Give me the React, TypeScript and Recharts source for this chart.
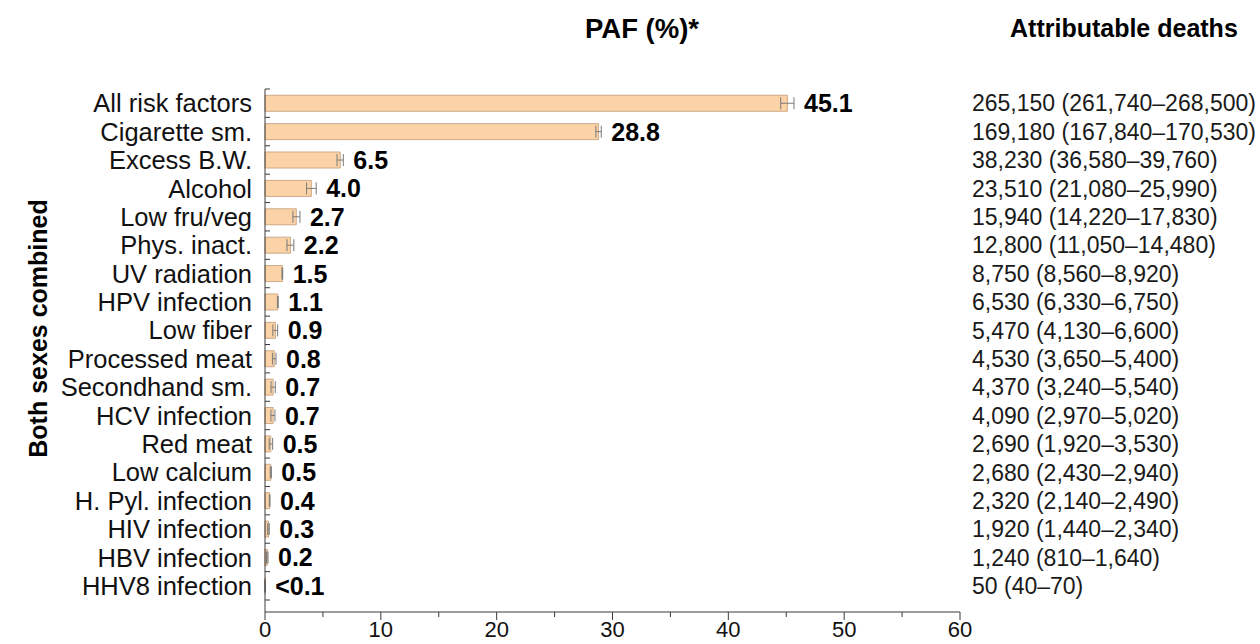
import React from 'react';
import { BarChart, Bar, XAxis, YAxis, ErrorBar, LabelList } from 'recharts';

const categories = [
  'All risk factors', 'Cigarette sm.', 'Excess B.W.', 'Alcohol', 'Low fru/veg', 'Phys. inact.',
  'UV radiation', 'HPV infection', 'Low fiber', 'Processed meat', 'Secondhand sm.', 'HCV infection',
  'Red meat', 'Low calcium', 'H. Pyl. infection', 'HIV infection', 'HBV infection', 'HHV8 infection',
];
const paf = [45.1, 28.8, 6.5, 4.0, 2.7, 2.2, 1.5, 1.1, 0.9, 0.8, 0.7, 0.7, 0.5, 0.5, 0.4, 0.3, 0.2, 0.01];
const pafLow = [44.52, 28.57, 6.22, 3.59, 2.41, 1.9, 1.47, 1.07, 0.68, 0.64, 0.52, 0.51, 0.36, 0.45, 0.37, 0.23, 0.13, 0.008];
const pafHigh = [45.67, 29.03, 6.76, 4.42, 3.02, 2.49, 1.53, 1.14, 1.09, 0.95, 0.89, 0.86, 0.66, 0.55, 0.43, 0.37, 0.26, 0.014];
const pafLabels = ['45.1', '28.8', '6.5', '4.0', '2.7', '2.2', '1.5', '1.1', '0.9', '0.8', '0.7', '0.7', '0.5', '0.5', '0.4', '0.3', '0.2', '<0.1'];
const deaths = [
  '265,150 (261,740–268,500)', '169,180 (167,840–170,530)', '38,230 (36,580–39,760)', '23,510 (21,080–25,990)',
  '15,940 (14,220–17,830)', '12,800 (11,050–14,480)', '8,750 (8,560–8,920)', '6,530 (6,330–6,750)',
  '5,470 (4,130–6,600)', '4,530 (3,650–5,400)', '4,370 (3,240–5,540)', '4,090 (2,970–5,020)',
  '2,690 (1,920–3,530)', '2,680 (2,430–2,940)', '2,320 (2,140–2,490)', '1,920 (1,440–2,340)',
  '1,240 (810–1,640)', '50 (40–70)',
];
const xTicks = [0, 5, 10, 15, 20, 25, 30, 35, 40, 45, 50, 55, 60];

const rows = categories.map((cat, i) => ({
  cat,
  paf: paf[i],
  err: [paf[i] - pafLow[i], pafHigh[i] - paf[i]],
}));

const FONT = '"Liberation Sans", Arial, Helvetica, sans-serif';
const AXIS = '#3a3a3a';
const Y_LABEL_GAP = 13;

const XTick = (props: any) => {
  const { x, y, payload } = props;
  const major = payload.value % 10 === 0;
  return (
    <g>
      <line x1={x} x2={x} y1={y} y2={y + (major ? 8 : 5)} stroke={AXIS} strokeWidth={1} />
      {major && (
        <text x={x} y={y + 25} textAnchor="middle" fontFamily={FONT} fontSize={22} fill="#111">
          {payload.value}
        </text>
      )}
    </g>
  );
};

const LeftTick = (props: any) => {
  const { x, y, payload, index } = props;
  const half = payload && payload.offset ? payload.offset : 0;
  const last = index === categories.length - 1;
  return (
    <g>
      {half > 0 && <line x1={x} x2={x + 5} y1={y - half} y2={y - half} stroke={AXIS} strokeWidth={1} />}
      {half > 0 && last && <line x1={x} x2={x + 5} y1={y + half} y2={y + half} stroke={AXIS} strokeWidth={1} />}
      <text x={x - Y_LABEL_GAP} y={y} dy="0.36em" textAnchor="end" fontFamily={FONT} fontSize={25.5} fill="#111">
        {payload.value}
      </text>
    </g>
  );
};

const RightTick = (props: any) => {
  const { x, y, index } = props;
  return (
    <text x={x + 12} y={y} dy="0.36em" textAnchor="start" fontFamily={FONT} fontSize={23} fill="#1a1a1a">
      {deaths[index]}
    </text>
  );
};

const ValueLabel = (props: any) => {
  const vb = props.viewBox || props;
  const { x, y, width, height } = vb;
  const index = props.index;
  const v = paf[index];
  const hiPx = width * (pafHigh[index] / v);
  return (
    <text x={x + hiPx + 10} y={y + height / 2} dy="0.36em" textAnchor="start" fontFamily={FONT} fontSize={25} fontWeight="bold" fill="#000">
      {pafLabels[index]}
    </text>
  );
};

const SideTitle = (props: any) => {
  const vb = props.viewBox;
  const cy = vb.y + vb.height / 2 - 22;
  return (
    <text x={38} y={cy} transform={`rotate(-90 38 ${cy})`} dy="0.36em" textAnchor="middle" fontFamily={FONT} fontSize={25} fontWeight="bold" fill="#000">
      Both sexes combined
    </text>
  );
};

export default function App() {
  return (
    <div style={{ position: 'absolute', left: 0, top: 0, width: 1260, height: 644, background: '#fff', fontFamily: FONT }}>
      <div style={{ position: 'absolute', left: 585, top: 13, fontSize: 27.5, fontWeight: 'bold', color: '#000', whiteSpace: 'nowrap' }}>PAF (%)*</div>
      <div style={{ position: 'absolute', left: 1010, top: 14, fontSize: 25, fontWeight: 'bold', color: '#000', whiteSpace: 'nowrap' }}>Attributable deaths</div>
      <BarChart
        width={1260}
        height={644}
        data={rows}
        layout="vertical"
        margin={{ top: 89, right: 0, bottom: 0, left: 0 }}
        barCategoryGap="22%"
      >
        <XAxis
          type="number"
          domain={[0, 60]}
          ticks={xTicks}
          interval={0}
          height={32}
          tickSize={0}
          tickMargin={0}
          tickLine={false}
          axisLine={{ stroke: AXIS, strokeWidth: 1 }}
          tick={<XTick />}
        />
        <YAxis
          yAxisId="left"
          type="category"
          dataKey="cat"
          width={265}
          interval={0}
          padding={{ top: 0, bottom: 12 }}
          tickSize={0}
          tickMargin={0}
          tickLine={false}
          axisLine={{ stroke: AXIS, strokeWidth: 1 }}
          tick={<LeftTick />}
          label={{ content: <SideTitle /> }}
        />
        <YAxis
          yAxisId="right"
          orientation="right"
          type="category"
          dataKey="cat"
          width={300}
          interval={0}
          padding={{ top: 0, bottom: 12 }}
          tickSize={0}
          tickMargin={0}
          tickLine={false}
          axisLine={false}
          tick={<RightTick />}
        />
        <Bar yAxisId="left" dataKey="paf" fill="#FBD3A7" stroke="#CDAA88" strokeWidth={1} isAnimationActive={false}>
          <ErrorBar dataKey="err" direction="x" width={6} stroke="#7a7a7a" strokeWidth={1} isAnimationActive={false} />
          <LabelList dataKey="paf" content={<ValueLabel />} />
        </Bar>
      </BarChart>
    </div>
  );
}
